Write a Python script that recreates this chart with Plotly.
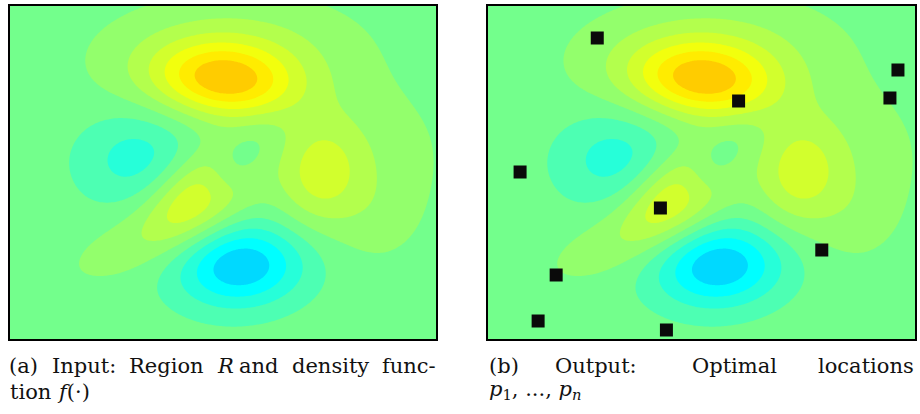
import numpy as np
import plotly.graph_objects as go

# Region R (in picture pixels, y measured downward)
region_w = 428
region_h = 335

bump_x     = [217, 218, 354, 368, 311, 191, 133, 127, 232, 221]
bump_y     = [76, 47, 147, 213, 169, 190, 235, 153, 261, 166]
bump_sx    = [50, 83, 61, 32, 30, 41, 58, 41, 45, 16]
bump_sy    = [26, 37, 54, 35, 38, 25, 22, 33, 29, 35]
bump_angle = [4, -3, 3, -1, 8, -39, -24, -10, -5, 43]
bump_amp   = [5.06, 1.84, 0.92, 0.58, 2.42, 3.73, 1.0, -1.94, -4.36, -1.58]

# filled-contour bands (levels) and their colours
level_start, level_end, level_step = -4.5, 6.5, 1.0
band_colors = ["#00b3ff", "#00d9ff", "#00ffff", "#26ffd9", "#4dffb3", "#73ff8c", "#93ff6c",
               "#b3ff4d", "#d2ff2d", "#f2ff0d", "#ffec00", "#ffcc00", "#ffac00"]

# Optimal locations p_1 ... p_n
site_x = [110, 410, 402, 251, 33, 173, 334, 69, 51, 179]
site_y = [33, 65, 93, 96, 167, 203, 245, 270, 316, 325]

# captions
caption_a1 = ["(a)", "Input:", "Region", "<i>R</i>", "and", "density", "func-"]
caption_a2 = ["<span>tion</span>", "<i>f</i>(·)"]
caption_b1 = ["(b)", "Output:", "Optimal", "locations"]
caption_b2 = "<i>p</i><sub>1</sub>, ..., <i>p</i><sub><i>n</i></sub>"

xs = np.linspace(0, region_w, 300)
ys = np.linspace(0, region_h, 240)
X, Y = np.meshgrid(xs, ys)
Z = np.zeros_like(X)
for cx, cy, sx, sy, ang, a in zip(bump_x, bump_y, bump_sx, bump_sy, bump_angle, bump_amp):
    th = np.radians(ang)
    dx, dy = X - cx, Y - cy
    u = dx * np.cos(th) + dy * np.sin(th)
    v = -dx * np.sin(th) + dy * np.cos(th)
    Z += a * np.exp(-0.5 * ((u / sx) ** 2 + (v / sy) ** 2))

nb = len(band_colors) - 1
cscale = [[i / nb, c] for i, c in enumerate(band_colors)]

fig = go.Figure()
for xa, ya in (("x", "y"), ("x2", "y2")):
    fig.add_trace(go.Contour(x=xs, y=ys, z=Z, xaxis=xa, yaxis=ya, colorscale=cscale, showscale=False,
                             contours=dict(start=level_start, end=level_end, size=level_step, coloring="fill"),
                             line=dict(width=0), hoverinfo="skip"))
fig.add_trace(go.Scatter(x=site_x, y=site_y, xaxis="x2", yaxis="y2", mode="markers",
                         marker=dict(symbol="square", size=13, color="#0a0a0a", line=dict(width=0)),
                         hoverinfo="skip"))

cap = dict(family="DejaVu Serif", size=21, color="#111111")
def word(txt, xpx, ypx, anchor="left"):
    fig.add_annotation(x=xpx / 920, y=1 - ypx / 414, xref="paper", yref="paper", xanchor=anchor,
                       yanchor="middle", showarrow=False, text=txt, font=cap)

for t, xp in zip(caption_a1[:-1], [7, 50, 127, 215, 237, 290]):
    word(t, xp, 366)
word(caption_a1[-1], 438, 366, "right")
word(caption_a2[0], 8, 392)
word(caption_a2[1], 55, 392)
for t, xp in zip(caption_b1[:-1], [487, 553, 690]):
    word(t, xp, 366)
word(caption_b1[-1], 916, 366, "right")
word(caption_b2, 487, 390)

frame = dict(type="rect", x0=0, x1=1, y0=0, y1=1, line=dict(color="black", width=2))
fig.update_layout(width=920, height=414, margin=dict(l=0, r=0, t=0, b=0), showlegend=False,
                  paper_bgcolor="white", plot_bgcolor="white",
                  xaxis=dict(domain=[9/920, 437/920], range=[0, region_w], visible=False),
                  yaxis=dict(domain=[74/414, 409/414], range=[region_h, 0], visible=False),
                  xaxis2=dict(domain=[487/920, 916/920], range=[0, region_w], visible=False, anchor="y2"),
                  yaxis2=dict(domain=[74/414, 409/414], range=[region_h, 0], visible=False, anchor="x2"),
                  shapes=[dict(frame, xref="x domain", yref="y domain"),
                          dict(frame, xref="x2 domain", yref="y2 domain")])
fig.write_html("out.html")
